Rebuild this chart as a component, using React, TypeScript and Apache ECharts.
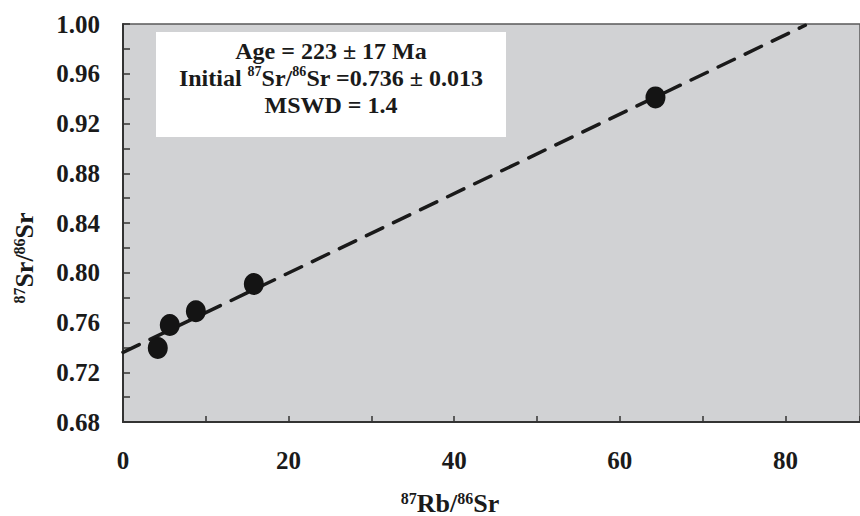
import React, { useEffect, useRef } from "react";
import * as echarts from "echarts";

const pointsX = [4.2, 5.65, 8.8, 15.8, 64.3];
const pointsY = [0.7395, 0.758, 0.769, 0.791, 0.941];
const isochronX = [0, 82.4];
const isochronY = [0.736, 0.999];
const xTicks = [0, 20, 40, 60, 80];
const yTicks = [0.68, 0.72, 0.76, 0.8, 0.84, 0.88, 0.92, 0.96, 1.0];
const boxLines = [
  "Age = 223 ± 17 Ma",
  "Initial {sup|87}Sr/{sup|86}Sr =0.736 ± 0.013",
  "MSWD = 1.4",
];

const FONT = "'Liberation Serif', 'Times New Roman', serif";

export default function App() {
  const ref = useRef<HTMLDivElement>(null);
  useEffect(() => {
    if (!ref.current) return;
    const chart = echarts.init(ref.current, null, { renderer: "svg" });
    const supStyle = { fontSize: 14, fontWeight: "bold", fontFamily: FONT, color: "#1a1a1a", verticalAlign: "top" };
    chart.setOption({
      animation: false,
      backgroundColor: "#ffffff",
      grid: {
        left: 123,
        top: 24,
        width: 740,
        height: 398,
        show: true,
        backgroundColor: "#d1d2d4",
        borderColor: "#5a5a5a",
        borderWidth: 1.5,
      },
      xAxis: {
        type: "value",
        min: xTicks[0],
        max: 89,
        interval: 20,
        axisLine: { show: true, lineStyle: { color: "#333", width: 2 } },
        axisTick: { show: true, inside: true, length: 6, lineStyle: { color: "#333", width: 1.5 } },
        minorTick: { show: true, splitNumber: 2, length: 6, lineStyle: { color: "#333", width: 1.5 } },
        splitLine: { show: false },
        axisLabel: {
          margin: 26,
          fontSize: 25,
          fontWeight: "bold",
          fontFamily: FONT,
          color: "#1a1a1a",
          showMaxLabel: false,
          formatter: (v: number) => (xTicks.includes(v) ? String(v) : ""),
        },
      },
      yAxis: {
        type: "value",
        min: yTicks[0],
        max: yTicks[yTicks.length - 1],
        interval: 0.04,
        axisLine: { show: true, lineStyle: { color: "#333", width: 2 } },
        axisTick: { show: true, inside: true, length: 7, lineStyle: { color: "#333", width: 1.5 } },
        minorTick: { show: true, splitNumber: 2, length: 7, lineStyle: { color: "#333", width: 1.5 } },
        splitLine: { show: false },
        axisLabel: {
          margin: 23,
          fontSize: 25,
          fontWeight: "bold",
          fontFamily: FONT,
          color: "#1a1a1a",
          formatter: (v: number) => v.toFixed(2),
        },
      },
      series: [
        {
          type: "line",
          data: isochronX.map((x, i) => [x, isochronY[i]]),
          symbol: "none",
          lineStyle: { color: "#1a1a1a", width: 3.5, type: [18, 12], cap: "round" },
          z: 2,
        },
        {
          type: "scatter",
          data: pointsX.map((x, i) => [x, pointsY[i]]),
          symbol: "circle",
          symbolSize: [20, 22],
          itemStyle: { color: "#141414", opacity: 1 },
          z: 3,
        },
      ],
      graphic: [
        {
          type: "rect",
          shape: { x: 156, y: 32, width: 350, height: 105 },
          style: { fill: "#ffffff" },
          z: 10,
        },
        {
          type: "text",
          x: 331,
          y: 37,
          z: 11,
          style: {
            text: boxLines.join("\n"),
            align: "center",
            verticalAlign: "top",
            font: `bold 24px ${FONT}`,
            fill: "#1a1a1a",
            lineHeight: 27,
            rich: { sup: supStyle },
          },
        },
        {
          type: "text",
          x: 450,
          y: 503,
          z: 11,
          style: {
            text: "{sup|87}Rb/{sup|86}Sr",
            align: "center",
            verticalAlign: "middle",
            font: `bold 26px ${FONT}`,
            fill: "#1a1a1a",
            rich: { sup: { ...supStyle, fontSize: 16 } },
          },
        },
        {
          type: "text",
          x: 24,
          y: 258,
          rotation: Math.PI / 2,
          z: 11,
          style: {
            text: "{sup|87}Sr/{sup|86}Sr",
            align: "center",
            verticalAlign: "middle",
            font: `bold 26px ${FONT}`,
            fill: "#1a1a1a",
            rich: { sup: { ...supStyle, fontSize: 16 } },
          },
        },
      ],
    });
    return () => chart.dispose();
  }, []);
  return (
    <div
      ref={ref}
      style={{ position: "fixed", left: 0, top: 0, width: 860, height: 516 }}
    />
  );
}
